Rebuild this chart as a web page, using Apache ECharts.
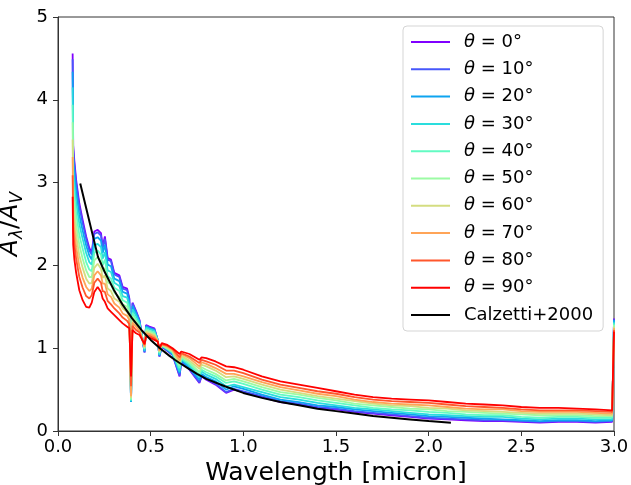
<!DOCTYPE html>
<html>
<head>
<meta charset="utf-8">
<script src="https://cdn.jsdelivr.net/npm/echarts@6/dist/echarts.min.js"></script>
<style>html,body{margin:0;padding:0;background:#fff;}#chart{width:631px;height:485px;}</style>
</head>
<body>
<div id="chart"></div>
<script>
// Wavelength grid (micron)
const wavelength = [0.079,0.082,0.088,0.098,0.115,0.133,0.152,0.169,0.182,0.196,0.214,0.232,0.241,0.253,0.268,0.286,0.304,0.331,0.349,0.373,0.385,0.394,0.402,0.421,0.44,0.467,0.475,0.493,0.52,0.538,0.547,0.56,0.59,0.618,0.656,0.665,0.709,0.763,0.775,0.8,0.85,0.907,0.95,1.0,1.1,1.2,1.3,1.4,1.5,1.6,1.7,1.8,1.9,2.0,2.1,2.2,2.3,2.4,2.5,2.6,2.7,2.8,2.9,2.99,3.0];

const theta0 = [4.56,3.45,3.27,3.03,2.75,2.55,2.35,2.21,2.15,2.41,2.43,2.39,2.23,2.35,2.09,2.07,1.91,1.88,1.74,1.72,1.60,0.35,1.55,1.45,1.34,0.95,1.28,1.26,1.24,1.10,0.90,1.02,0.97,0.92,0.66,0.84,0.74,0.58,0.66,0.62,0.56,0.46,0.50,0.47,0.41,0.35,0.32,0.28,0.26,0.23,0.21,0.19,0.17,0.15,0.14,0.13,0.12,0.12,0.11,0.10,0.11,0.11,0.10,0.11,1.36];
const theta10 = [4.49,3.40,3.22,2.99,2.71,2.51,2.32,2.18,2.13,2.38,2.40,2.36,2.21,2.32,2.07,2.05,1.89,1.86,1.72,1.70,1.59,0.35,1.54,1.44,1.33,0.95,1.27,1.25,1.23,1.10,0.90,1.02,0.97,0.92,0.67,0.84,0.75,0.59,0.67,0.63,0.57,0.47,0.51,0.48,0.42,0.36,0.33,0.29,0.27,0.24,0.22,0.20,0.18,0.16,0.15,0.14,0.13,0.13,0.12,0.11,0.12,0.12,0.11,0.12,1.35];
const theta20 = [4.34,3.29,3.12,2.88,2.61,2.42,2.24,2.12,2.07,2.32,2.34,2.30,2.15,2.25,2.01,1.99,1.84,1.81,1.68,1.66,1.55,0.35,1.51,1.42,1.32,0.96,1.26,1.24,1.22,1.10,0.91,1.03,0.98,0.93,0.70,0.86,0.76,0.62,0.69,0.65,0.60,0.50,0.54,0.51,0.44,0.38,0.35,0.31,0.29,0.26,0.24,0.22,0.20,0.18,0.17,0.16,0.15,0.14,0.13,0.12,0.13,0.13,0.12,0.13,1.34];
const theta30 = [4.15,3.16,2.98,2.76,2.50,2.32,2.15,2.04,2.01,2.24,2.26,2.22,2.08,2.16,1.94,1.92,1.79,1.75,1.63,1.61,1.51,0.36,1.47,1.39,1.30,0.97,1.25,1.23,1.21,1.10,0.92,1.03,0.99,0.94,0.72,0.87,0.79,0.65,0.72,0.68,0.63,0.54,0.56,0.53,0.47,0.41,0.38,0.34,0.31,0.28,0.26,0.24,0.22,0.20,0.19,0.18,0.17,0.17,0.15,0.14,0.15,0.15,0.14,0.14,1.32];
const theta40 = [3.94,3.02,2.84,2.63,2.37,2.20,2.04,1.95,1.93,2.15,2.18,2.13,2.00,2.07,1.87,1.84,1.73,1.69,1.58,1.55,1.47,0.37,1.43,1.35,1.28,0.99,1.23,1.21,1.19,1.09,0.94,1.03,0.99,0.95,0.76,0.88,0.81,0.68,0.74,0.71,0.66,0.58,0.60,0.57,0.50,0.44,0.41,0.37,0.34,0.31,0.28,0.26,0.25,0.23,0.22,0.20,0.19,0.19,0.17,0.16,0.17,0.17,0.16,0.16,1.30];
const theta50 = [3.73,2.87,2.70,2.49,2.25,2.08,1.94,1.86,1.86,2.06,2.10,2.05,1.93,1.97,1.80,1.77,1.67,1.62,1.53,1.50,1.43,0.38,1.39,1.32,1.25,1.00,1.21,1.20,1.17,1.09,0.95,1.04,1.00,0.96,0.79,0.90,0.83,0.71,0.77,0.74,0.69,0.61,0.63,0.60,0.53,0.47,0.44,0.40,0.37,0.33,0.31,0.29,0.27,0.26,0.24,0.23,0.22,0.21,0.20,0.19,0.19,0.19,0.18,0.18,1.28];
const theta60 = [3.52,2.73,2.56,2.36,2.12,1.97,1.84,1.78,1.79,1.97,2.02,1.96,1.85,1.88,1.72,1.69,1.60,1.56,1.48,1.44,1.38,0.40,1.35,1.29,1.23,1.01,1.20,1.18,1.16,1.09,0.96,1.04,1.01,0.97,0.82,0.91,0.85,0.75,0.80,0.78,0.73,0.65,0.66,0.63,0.56,0.50,0.46,0.42,0.39,0.36,0.33,0.31,0.30,0.28,0.27,0.25,0.24,0.23,0.22,0.21,0.21,0.21,0.20,0.19,1.26];
const theta70 = [3.31,2.59,2.41,2.22,1.99,1.85,1.74,1.69,1.72,1.88,1.93,1.88,1.78,1.78,1.65,1.62,1.54,1.49,1.42,1.39,1.34,0.42,1.31,1.26,1.21,1.02,1.18,1.17,1.14,1.09,0.97,1.05,1.02,0.98,0.85,0.93,0.88,0.78,0.83,0.81,0.76,0.69,0.69,0.66,0.59,0.53,0.49,0.45,0.42,0.38,0.35,0.33,0.32,0.31,0.29,0.27,0.26,0.26,0.24,0.23,0.23,0.23,0.22,0.21,1.24];
const theta80 = [3.09,2.43,2.26,2.08,1.86,1.73,1.63,1.60,1.64,1.79,1.84,1.79,1.69,1.68,1.57,1.53,1.48,1.42,1.37,1.33,1.29,0.54,1.27,1.22,1.19,1.04,1.16,1.15,1.12,1.08,0.99,1.05,1.03,0.99,0.89,0.94,0.90,0.82,0.86,0.84,0.80,0.73,0.73,0.70,0.62,0.56,0.52,0.48,0.45,0.41,0.38,0.36,0.35,0.34,0.32,0.30,0.29,0.28,0.26,0.25,0.25,0.25,0.24,0.23,1.22];
const theta90 = [2.83,2.25,2.08,1.91,1.70,1.58,1.50,1.49,1.55,1.68,1.74,1.68,1.60,1.56,1.48,1.44,1.40,1.34,1.30,1.26,1.24,0.66,1.22,1.18,1.16,1.05,1.14,1.13,1.10,1.08,1.00,1.06,1.04,1.00,0.93,0.96,0.93,0.86,0.89,0.88,0.84,0.78,0.77,0.74,0.66,0.60,0.56,0.52,0.48,0.44,0.41,0.39,0.38,0.37,0.35,0.33,0.32,0.31,0.29,0.28,0.28,0.27,0.26,0.25,1.20];

// Calzetti+2000 curve
const calzettiX = [0.12,0.216,0.25,0.3,0.35,0.4,0.45,0.5,0.55,0.6,0.63,0.65,0.7,0.75,0.8,0.9,1.0,1.1,1.2,1.3,1.4,1.5,1.6,1.7,1.8,1.9,2.0,2.12];
const calzettiY = [2.99,2.10,1.93,1.71,1.52,1.36,1.22,1.10,1.00,0.91,0.86,0.83,0.76,0.69,0.63,0.54,0.46,0.40,0.35,0.31,0.27,0.24,0.21,0.18,0.16,0.14,0.12,0.10];

const seriesNames = ['θ = 0°','θ = 10°','θ = 20°','θ = 30°','θ = 40°','θ = 50°','θ = 60°','θ = 70°','θ = 80°','θ = 90°'];
const seriesValues = [theta0,theta10,theta20,theta30,theta40,theta50,theta60,theta70,theta80,theta90];
const seriesColors = ['#8000ff','#4757fb','#0ea4f0','#2adddd','#63fbc3','#9cfba4','#d4dd80','#ffa457','#ff572c','#ff0000'];
const calzettiName = 'Calzetti+2000';

const xTicks = {min:0, max:3, interval:0.5};
const yTicks = {min:0, max:5, interval:1};

const FONT = 'DejaVu Sans';
const chart = echarts.init(document.getElementById('chart'), null, {renderer:'canvas'});

const series = seriesValues.map((vals, i) => ({
  name: seriesNames[i],
  type: 'line',
  data: wavelength.map((x, j) => [x, vals[j]]),
  showSymbol: false,
  symbol: 'none',
  lineStyle: {color: seriesColors[i], width: 1.8},
  itemStyle: {color: seriesColors[i]},
  emphasis: {disabled: true},
  animation: false
}));
series.push({
  name: calzettiName,
  type: 'line',
  data: calzettiX.map((x, j) => [x, calzettiY[j]]),
  showSymbol: false,
  symbol: 'none',
  lineStyle: {color: '#000', width: 2},
  itemStyle: {color: '#000'},
  emphasis: {disabled: true},
  animation: false
});

const axisLine = {show: true, lineStyle: {color: '#333', width: 1}};
chart.setOption({
  animation: false,
  backgroundColor: '#fff',
  grid: {left: 58, right: 17, top: 17, bottom: 54, containLabel: false, outerBoundsMode: 'none',
         show: true, borderColor: '#333', borderWidth: 1, backgroundColor: 'transparent'},
  legend: {
    data: seriesNames.concat([calzettiName]),
    orient: 'vertical',
    left: 403, top: 26,
    padding: [6, 10, 6, 8],
    itemWidth: 39, itemHeight: 2,
    itemGap: 7.3,
    icon: 'rect',
    backgroundColor: 'rgba(255,255,255,0.85)',
    borderColor: '#d5d5d5', borderWidth: 1, borderRadius: 4,
    selectedMode: false,
    formatter: function (name) {
      if (name.charAt(0) === 'θ') return '{i|θ}' + name.slice(1);
      return name;
    },
    textStyle: {
      fontFamily: FONT, fontSize: 18, color: '#000', lineHeight: 20, padding: [0, 0, 0, 9],
      rich: {i: {fontFamily: FONT, fontSize: 18, fontStyle: 'italic', color: '#000', lineHeight: 20}}
    }
  },
  xAxis: {
    type: 'value', min: xTicks.min, max: xTicks.max, interval: xTicks.interval,
    name: 'Wavelength [micron]', nameLocation: 'middle', nameGap: 22,
    nameTextStyle: {fontFamily: FONT, fontSize: 25, color: '#000'},
    axisLine: axisLine,
    axisTick: {show: true, inside: false, length: 5, lineStyle: {color: '#333'}},
    axisLabel: {fontFamily: FONT, fontSize: 18, color: '#000', margin: 7, formatter: v => v.toFixed(1)},
    splitLine: {show: false}
  },
  yAxis: {
    type: 'value', min: yTicks.min, max: yTicks.max, interval: yTicks.interval,
    name: '{a|A}{s|λ}{n|/}{a|A}{s|V}', nameLocation: 'middle', nameGap: 22, nameRotate: 90,
    nameTextStyle: {
      fontFamily: FONT, fontSize: 25, color: '#000',
      rich: {
        a: {fontFamily: FONT, fontSize: 25, fontStyle: 'italic', color: '#000', lineHeight: 30},
        n: {fontFamily: FONT, fontSize: 25, color: '#000', lineHeight: 30},
        s: {fontFamily: FONT, fontSize: 17, fontStyle: 'italic', color: '#000', lineHeight: 17, padding: [13, 0, 0, 0]}
      }
    },
    axisLine: axisLine,
    axisTick: {show: true, inside: false, length: 5, lineStyle: {color: '#333'}},
    axisLabel: {fontFamily: FONT, fontSize: 18, color: '#000', margin: 10},
    splitLine: {show: false}
  },
  series: series
});
</script>
</body>
</html>
